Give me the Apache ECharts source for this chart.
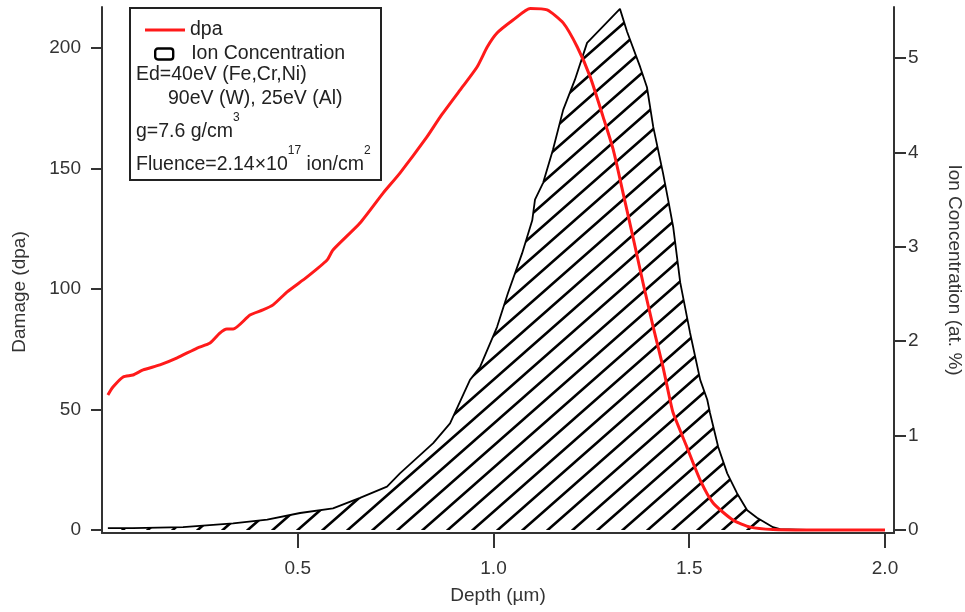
<!DOCTYPE html>
<html>
<head>
<meta charset="utf-8">
<script src="https://cdn.jsdelivr.net/npm/echarts@6/dist/echarts.min.js"></script>
<style>html,body{margin:0;padding:0;background:#fff;}#chart{width:965px;height:612px;}</style>
</head>
<body>
<div id="chart"></div>
<script>
// ---- data ----
const ionDepth = [0.015,0.079,0.207,0.335,0.422,0.506,0.590,0.659,0.728,0.761,0.846,0.889,0.940,0.966,1.009,1.037,1.073,1.099,1.106,1.127,1.152,1.178,1.208,1.239,1.323,1.341,1.375,1.392,1.408,1.433,1.446,1.459,1.477,1.502,1.528,1.546,1.553,1.574,1.597,1.622,1.648,1.673,1.714,1.732,1.80,2.0];
const ionConc  = [0.02,0.02,0.03,0.07,0.11,0.18,0.23,0.34,0.46,0.60,0.92,1.13,1.59,1.73,2.15,2.51,2.93,3.28,3.50,3.68,4.03,4.45,4.77,5.16,5.52,5.28,4.90,4.69,4.27,3.78,3.50,3.21,2.62,2.09,1.59,1.38,1.24,0.88,0.60,0.39,0.21,0.13,0.03,0.01,0,0];
const dpaDepth = [0.015,0.028,0.054,0.079,0.105,0.148,0.192,0.243,0.276,0.301,0.319,0.335,0.378,0.411,0.437,0.473,0.524,0.575,0.590,0.659,0.718,0.761,0.830,0.864,0.915,0.958,0.984,1.009,1.050,1.094,1.137,1.178,1.214,1.247,1.280,1.306,1.331,1.354,1.382,1.408,1.433,1.451,1.459,1.494,1.528,1.561,1.612,1.656,1.714,1.80,2.0];
const dpaValues = [56.0,59.3,63.5,64.3,66.4,68.5,71.4,75.5,77.6,81.7,83.4,83.4,89.2,91.3,93.4,98.8,105.0,112.0,116.2,127.4,139.8,148.1,163.1,171.4,182.6,192.1,200.4,206.2,211.6,216.4,215.8,210.4,200.4,188.0,171.4,157.7,139.8,123.2,102.5,84.2,67.6,53.9,48.5,34.4,20.7,11.2,4.1,1.2,0.2,0,0];
const xTicks = [0.5,1.0,1.5,2.0];
const leftTicks = [0,50,100,150,200];
const rightTicks = [0,1,2,3,4,5];

function makeHatch(){
  const w = 25, h = 22;
  const c = document.createElement('canvas');
  c.width = w; c.height = h;
  const ctx = c.getContext('2d');
  ctx.strokeStyle = '#000';
  ctx.lineWidth = 2.6;
  ctx.beginPath();
  [[0,0],[-w,0],[w,0],[0,-h],[0,h]].forEach(function(o){
    ctx.moveTo(o[0], o[1] + h);
    ctx.lineTo(o[0] + w, o[1]);
  });
  ctx.stroke();
  return c;
}

const FONT = 'Liberation Sans, Arial, sans-serif';
const chart = echarts.init(document.getElementById('chart'), null, {renderer:'canvas'});
const axisCol = '#333';
const option = {
  animation: false,
  backgroundColor: '#fff',
  grid: {left: 102, right: 71, top: 7, bottom: 79, containLabel: false, outerBoundsMode: 'none'},
  xAxis: {
    type: 'value', min: 0, max: 2.023,
    name: 'Depth (µm)', nameLocation: 'middle', nameGap: 53,
    nameTextStyle: {fontFamily: FONT, fontSize: 19, color: axisCol},
    axisLine: {onZero: false, lineStyle: {color: axisCol, width: 2}},
    axisTick: {length: 15, customValues: xTicks, lineStyle: {color: axisCol, width: 2}},
    axisLabel: {customValues: xTicks, margin: 26, fontFamily: FONT, fontSize: 19, color: axisCol,
      formatter: function(v){ return v.toFixed(1); }},
    splitLine: {show: false}
  },
  yAxis: [{
    type: 'value', min: -1.245, max: 217, position: 'left',
    name: 'Damage (dpa)', nameLocation: 'middle', nameGap: 73,
    nameTextStyle: {fontFamily: FONT, fontSize: 19, color: axisCol, padding: [0, 44, 0, 0]},
    axisLine: {show: true, onZero: false, lineStyle: {color: axisCol, width: 2}},
    axisTick: {show: true, length: 11, customValues: leftTicks, lineStyle: {color: axisCol, width: 2}},
    axisLabel: {customValues: leftTicks, margin: 21, fontFamily: FONT, fontSize: 19, color: axisCol},
    splitLine: {show: false}
  }, {
    type: 'value', min: -0.0318, max: 5.54, position: 'right',
    name: 'Ion Concentration (at. %)', nameLocation: 'middle', nameGap: 51, nameRotate: -90,
    nameTextStyle: {fontFamily: FONT, fontSize: 19, color: axisCol},
    axisLine: {show: true, onZero: false, lineStyle: {color: axisCol, width: 2}},
    axisTick: {show: true, length: 12, customValues: rightTicks, lineStyle: {color: axisCol, width: 2}},
    axisLabel: {customValues: rightTicks, margin: 14, fontFamily: FONT, fontSize: 19, color: axisCol},
    splitLine: {show: false}
  }],
  legend: [{
    data: [{name: 'dpa', icon: 'rect'}],
    left: 140, top: 15, itemWidth: 40, itemHeight: 3, z: 6,
    textStyle: {fontFamily: FONT, fontSize: 19.5, color: '#222'}
  }, {
    data: [{name: 'Ion Concentration', icon: 'roundRect',
      itemStyle: {color: '#fff', borderColor: '#000', borderWidth: 2.4}}],
    left: 149, top: 39, itemWidth: 18, itemHeight: 11, z: 6,
    textStyle: {fontFamily: FONT, fontSize: 19.5, color: '#222', padding: [0, 0, 0, 13]}
  }],
  graphic: [
    {type: 'rect', z: 3, shape: {x: 130, y: 8, width: 251, height: 172},
      style: {fill: '#fff', stroke: '#222', lineWidth: 2}},
    {type: 'text', z: 7, x: 136, y: 75, style: {text: 'Ed=40eV (Fe,Cr,Ni)', font: '19.5px ' + FONT, fill: '#222', verticalAlign: 'middle'}},
    {type: 'text', z: 7, x: 168, y: 99, style: {text: '90eV (W), 25eV (Al)', font: '19.5px ' + FONT, fill: '#222', verticalAlign: 'middle'}},
    {type: 'text', z: 7, x: 136, y: 127, style: {
      text: '{n|g=7.6 g/cm}{s|3}', verticalAlign: 'middle', fill: '#222',
      rich: {n: {fontFamily: FONT, fontSize: 19.5, verticalAlign: 'bottom', lineHeight: 30},
             s: {fontFamily: FONT, fontSize: 12, verticalAlign: 'top', lineHeight: 30}}}},
    {type: 'text', z: 7, x: 136, y: 160, style: {
      text: '{n|Fluence=2.14×10}{s|17}{n| ion/cm}{s|2}', verticalAlign: 'middle', fill: '#222',
      rich: {n: {fontFamily: FONT, fontSize: 19.5, verticalAlign: 'bottom', lineHeight: 30},
             s: {fontFamily: FONT, fontSize: 12, verticalAlign: 'top', lineHeight: 30}}}}
  ],
  series: [{
    name: 'Ion Concentration', type: 'line', yAxisIndex: 1,
    data: ionDepth.map(function(d, i){ return [d, ionConc[i]]; }),
    showSymbol: false, symbol: 'none', smooth: false,
    lineStyle: {color: '#000', width: 1.8},
    itemStyle: {color: '#000'},
    areaStyle: {color: {image: makeHatch(), repeat: 'repeat'}, opacity: 1},
    z: 2
  }, {
    name: 'dpa', type: 'line', yAxisIndex: 0,
    data: dpaDepth.map(function(d, i){ return [d, dpaValues[i]]; }),
    showSymbol: false, symbol: 'none', smooth: 0.2,
    lineStyle: {color: '#ff1a1a', width: 3},
    itemStyle: {color: '#ff1a1a'},
    z: 3
  }]
};
chart.setOption(option);
</script>
</body>
</html>
